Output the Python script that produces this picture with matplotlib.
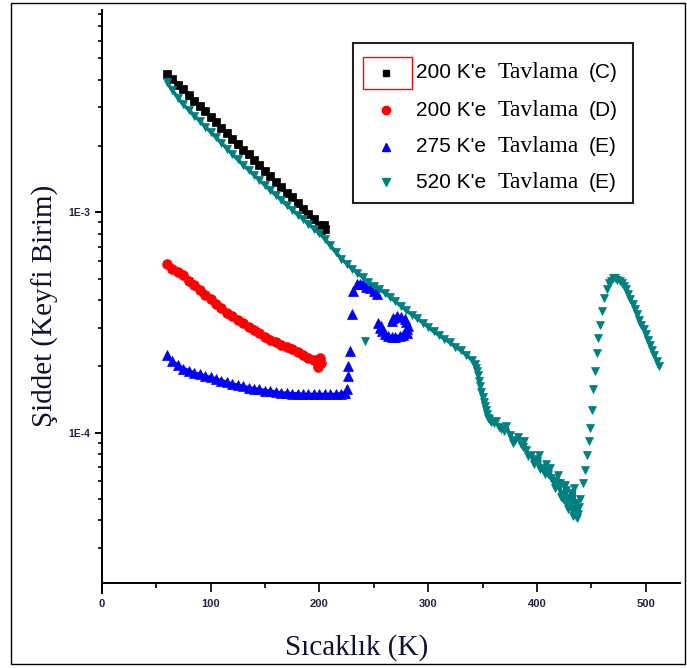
import matplotlib
matplotlib.use("Agg")
import matplotlib.pyplot as plt
from matplotlib.patches import Rectangle
from matplotlib.lines import Line2D
from matplotlib.font_manager import FontProperties
from matplotlib.ticker import FixedLocator, LogLocator, MultipleLocator, NullFormatter

# 200 K'e Tavlama (C) - siyah kareler
x_c = [60, 65, 70, 75, 80, 85, 90, 95, 100, 105, 110, 115, 120, 125, 130,
       135, 140, 145, 150, 155, 160, 165, 170, 175, 180, 185, 190, 195, 200,
       202, 203, 204, 205]
y_c = [4.26e-3, 4.05e-3, 3.80e-3, 3.62e-3, 3.40e-3, 3.22e-3, 3.03e-3, 2.88e-3,
       2.71e-3, 2.57e-3, 2.42e-3, 2.30e-3, 2.16e-3, 2.05e-3, 1.93e-3, 1.84e-3,
       1.73e-3, 1.64e-3, 1.54e-3, 1.46e-3, 1.38e-3, 1.30e-3, 1.23e-3, 1.17e-3,
       1.10e-3, 1.04e-3, 9.8e-4, 9.3e-4, 8.8e-4, 8.3e-4, 8.5e-4, 8.8e-4, 8.4e-4]

# 200 K'e Tavlama (D) - kirmizi daireler
x_d = [60, 65, 70, 75, 80, 85, 90, 95, 100, 105, 110, 115, 120, 125, 130,
       135, 140, 145, 150, 155, 160, 165, 170, 175, 180, 185, 190, 195,
       198, 199, 200, 201, 202]
y_d = [5.82e-4, 5.56e-4, 5.37e-4, 5.19e-4, 4.90e-4, 4.68e-4, 4.42e-4, 4.22e-4,
       4.03e-4, 3.85e-4, 3.67e-4, 3.51e-4, 3.39e-4, 3.24e-4, 3.13e-4, 3.02e-4,
       2.92e-4, 2.82e-4, 2.72e-4, 2.64e-4, 2.57e-4, 2.51e-4, 2.45e-4, 2.40e-4,
       2.32e-4, 2.26e-4, 2.19e-4, 2.14e-4, 2.10e-4, 1.99e-4, 2.05e-4, 2.18e-4, 2.08e-4]

# 275 K'e Tavlama (E) - mavi ucgenler
x_e1 = [60, 65, 70, 75, 80, 85, 90, 95, 100, 105, 110, 115, 120, 125, 130,
        135, 140, 145, 150, 155, 160, 165, 170, 175, 180, 185, 190, 195, 200,
        205, 210, 215, 220, 224,
        225.6, 226.4, 226.4, 228.2, 230, 230.9, 234.6, 237, 240, 243, 246.6, 250, 253,
        254, 255.8, 257, 258, 260.4, 263, 266.8, 270, 274.2, 277, 280.6, 281,
        281.5, 280, 278.8, 275, 271.4, 268, 266.8]
y_e1 = [2.24e-4, 2.11e-4, 2.02e-4, 1.95e-4, 1.91e-4, 1.86e-4, 1.84e-4, 1.80e-4,
        1.78e-4, 1.75e-4, 1.72e-4, 1.69e-4, 1.66e-4, 1.64e-4, 1.62e-4, 1.60e-4,
        1.58e-4, 1.57e-4, 1.55e-4, 1.54e-4, 1.53e-4, 1.51e-4, 1.51e-4, 1.50e-4,
        1.50e-4, 1.49e-4, 1.49e-4, 1.49e-4, 1.49e-4, 1.49e-4, 1.49e-4, 1.49e-4,
        1.50e-4, 1.51e-4,
        1.58e-4, 1.81e-4, 2.01e-4, 2.35e-4, 3.45e-4, 4.40e-4, 4.72e-4, 4.75e-4,
        4.72e-4, 4.60e-4, 4.53e-4, 4.40e-4, 4.26e-4,
        3.15e-4, 2.99e-4, 3.05e-4, 2.90e-4, 2.81e-4, 2.75e-4, 2.72e-4, 2.72e-4,
        2.75e-4, 2.78e-4, 2.83e-4, 2.95e-4, 3.05e-4, 3.18e-4, 3.28e-4, 3.35e-4,
        3.38e-4, 3.30e-4, 3.21e-4]

# 520 K'e Tavlama (E) - camgobegi ters ucgenler
x_e2 = [60, 65, 70, 75, 80, 85, 90, 95, 100, 105, 110, 115, 120, 125, 130,
        135, 140, 145, 150, 155, 160, 165, 170, 175, 180, 185, 190, 195, 200,
        205, 210, 215, 220, 225, 230, 235, 240, 245, 250, 255, 260, 265, 270,
        275, 280, 285, 290, 295, 300, 305, 310, 315, 320, 325, 330, 335, 340,
        343, 344, 345, 346, 347, 348, 349, 350, 351, 352, 353, 354, 355, 356,
        358, 361, 362, 365, 367, 370, 372, 375, 378, 380, 383,
        385, 387, 388, 390, 392, 395, 397, 398, 400, 402, 403, 405, 407, 408,
        410, 412, 413, 415, 417, 418, 419, 420, 421, 422, 424, 425, 426, 427,
        428, 429, 430, 431, 432, 433, 434, 435, 436, 436, 437, 438, 439,
        440, 442, 444, 446, 447.5, 449, 450.5, 452, 453.5, 455, 456.5, 458, 460,
        462, 464, 466, 468, 470, 472, 474, 476, 478, 480, 482, 484, 486, 488,
        490, 492, 494, 496, 498, 500, 502, 504, 506, 508, 510, 512, 242]
y_e2 = [3.89e-3, 3.59e-3, 3.31e-3, 3.09e-3, 2.92e-3, 2.75e-3, 2.60e-3, 2.45e-3,
        2.32e-3, 2.19e-3, 2.07e-3, 1.95e-3, 1.84e-3, 1.74e-3, 1.64e-3, 1.56e-3,
        1.48e-3, 1.40e-3, 1.33e-3, 1.26e-3, 1.20e-3, 1.14e-3, 1.08e-3, 1.03e-3,
        9.77e-4, 9.33e-4, 8.87e-4, 8.43e-4, 8.04e-4, 7.59e-4, 7.08e-4, 6.61e-4,
        6.17e-4, 5.86e-4, 5.56e-4, 5.31e-4, 5.07e-4, 4.84e-4, 4.62e-4, 4.47e-4,
        4.32e-4, 4.12e-4, 3.94e-4, 3.76e-4, 3.59e-4, 3.43e-4, 3.30e-4, 3.16e-4,
        3.02e-4, 2.88e-4, 2.77e-4, 2.66e-4, 2.57e-4, 2.45e-4, 2.36e-4, 2.26e-4,
        2.14e-4,
        2.04e-4, 1.97e-4, 1.90e-4, 1.82e-4, 1.72e-4, 1.62e-4, 1.53e-4, 1.45e-4,
        1.38e-4, 1.32e-4, 1.26e-4, 1.21e-4, 1.17e-4, 1.15e-4,
        1.12e-4, 1.10e-4, 1.13e-4, 1.06e-4, 1.04e-4, 1.02e-4, 1.07e-4, 9.77e-5,
        9.0e-5, 9.23e-5, 9.6e-5,
        8.91e-5, 8.6e-5, 9.2e-5, 8.32e-5, 7.8e-5, 7.94e-5, 7.2e-5, 7.6e-5,
        7.41e-5, 7.9e-5, 6.8e-5, 6.92e-5, 6.5e-5, 7.2e-5,
        6.46e-5, 6.9e-5, 6.2e-5, 6.03e-5, 5.6e-5, 5.9e-5, 6.4e-5, 5.62e-5,
        5.9e-5, 5.1e-5, 5.0e-5, 5.25e-5, 5.8e-5, 5.5e-5,
        4.7e-5, 4.5e-5, 4.90e-5, 5.3e-5, 4.6e-5, 4.2e-5, 5.6e-5, 4.47e-5,
        4.8e-5, 4.3e-5, 4.1e-5, 4.27e-5, 4.6e-5,
        5.01e-5, 5.89e-5, 6.76e-5, 7.94e-5, 9.12e-5, 1.05e-4, 1.26e-4, 1.58e-4,
        1.91e-4, 2.29e-4, 2.69e-4, 3.09e-4, 3.55e-4, 4.07e-4, 4.47e-4, 4.79e-4,
        4.90e-4, 5.01e-4, 5.01e-4, 4.95e-4, 4.90e-4, 4.79e-4, 4.62e-4, 4.47e-4,
        4.27e-4, 4.03e-4, 3.85e-4, 3.63e-4, 3.47e-4, 3.24e-4, 3.09e-4, 2.95e-4,
        2.79e-4, 2.63e-4, 2.51e-4, 2.37e-4, 2.24e-4, 2.11e-4, 2.00e-4, 2.61e-4]

labels_num = ["200 K'e", "200 K'e", "275 K'e", "520 K'e"]
labels_word = ["Tavlama", "Tavlama", "Tavlama", "Tavlama"]
labels_tag = ["(C)", "(D)", "(E)", "(E)"]

x_ticks = [0, 100, 200, 300, 400, 500]
y_ticks = [1e-4, 1e-3]
y_ticklabels = ["1E-4", "1E-3"]

W, H = 687, 668
fig = plt.figure(figsize=(W / 100, H / 100), dpi=100)

# cerceve (tum resim)
fig.patches.append(Rectangle((11 / W, 4 / H), 674 / W, 661 / H, transform=fig.transFigure,
                             fill=False, edgecolor="black", linewidth=1.0))

ax = fig.add_axes([101.7 / W, (H - 583) / H, (680 - 101.7) / W, (583 - 10) / H])

# marker, renk, grafik boyu, lejant boyu
styles = [("s", "black", 6.0, 4.5), ("o", "red", 7.0, 6.0),
          ("^", "blue", 6.8, 6.0), ("v", "#008080", 6.3, 6.0)]
series = [(x_c, y_c), (x_d, y_d), (x_e1, y_e1), (x_e2, y_e2)]

# Olcum noktalari cok sik oldugu icin yogun kisimlar kesintisiz bant gibi gorunuyor:
# bu kisimlarda noktalarin altina ayni renkte kalin bir cizgi konuyor.
n_e2 = len(x_e2) - 1  # son nokta (242 K) tek basina kalan nokta
dense = [
    [(0, len(x_c))],
    [(0, len(x_d))],
    [(0, 34), (40, 47), (47, len(x_e1))],
    [(0, x_e2.index(440)), (x_e2.index(466), n_e2)],
]
for (xs, ys), (m, c, s, _), segs in zip(series, styles, dense):
    for i0, i1 in segs:
        ax.plot(xs[i0:i1], ys[i0:i1], color=c, linewidth=2.6,
                solid_joinstyle="round", solid_capstyle="round")
    ax.plot(xs, ys, linestyle="none", marker=m, color=c, markersize=s,
            markeredgewidth=0.5)

ax.set_yscale("log")
ax.set_xlim(0, 531.5)
ax.set_ylim(2.075e-5, 8.3e-3)

ax.spines["top"].set_visible(False)
ax.spines["right"].set_visible(False)
ax.spines["left"].set_linewidth(1.4)
ax.spines["bottom"].set_linewidth(1.4)
# sol eksen x ekseninin biraz altina uzaniyor (Origin stili)
ax.plot([0, 0], [0, -10 / 573], transform=ax.transAxes, color="black",
        linewidth=1.4, clip_on=False)

ax.xaxis.set_major_locator(FixedLocator(x_ticks))
ax.xaxis.set_minor_locator(MultipleLocator(50))
ax.yaxis.set_major_locator(FixedLocator(y_ticks))
ax.set_yticklabels(y_ticklabels)
ax.yaxis.set_minor_locator(LogLocator(base=10, subs=[2, 3, 4, 5, 6, 7, 8, 9]))
ax.yaxis.set_minor_formatter(NullFormatter())

for lab in ax.get_xticklabels():
    lab.set_fontproperties(FontProperties(family="Liberation Sans", size=8, weight="bold"))
    lab.set_color("#222244")
for lab in ax.get_yticklabels():
    lab.set_fontproperties(FontProperties(family="Liberation Sans", size=7.5, weight="bold"))
    lab.set_color("#222244")
ax.tick_params(axis="x", which="major", direction="out", length=6.5, width=1.2, pad=5)
ax.tick_params(axis="x", which="minor", direction="out", length=3.5, width=1.2)
ax.tick_params(axis="y", which="major", direction="out", length=5, width=1.4, pad=3)
ax.tick_params(axis="y", which="minor", direction="out", length=3, width=1.2)

# eksen basliklari
fig.text(357 / W, 1 - 648 / H, "Sıcaklık (K)", family="Liberation Serif", size=21,
         color="#101030", ha="center", va="center")
fig.text(45 / W, 1 - 306 / H, "Şiddet (Keyfi Birim)", family="Liberation Serif", size=21,
         color="#101030", ha="center", va="center", rotation=90)


# lejant (elle cizildi: Origin'deki karisik yazi tipleri)
def px(xp, yp):
    return xp / W, 1 - yp / H


fig.patches.append(Rectangle(px(352.5, 203), (633 - 352.5) / W, (203 - 43) / H,
                             transform=fig.transFigure, fill=False,
                             edgecolor="#222222", linewidth=1.5))
fig.patches.append(Rectangle(px(363, 89), (411.5 - 363) / W, (89 - 57.5) / H,
                             transform=fig.transFigure, fill=False,
                             edgecolor="red", linewidth=1.0))
rows = [73, 110, 147, 182]
for i, yr in enumerate(rows):
    m, c, _, s = styles[i]
    fig.add_artist(Line2D([386 / W], [1 - yr / H], marker=m, color=c,
                          markersize=s, linestyle="none", transform=fig.transFigure))
    fig.text(416 / W, 1 - yr / H, labels_num[i], family="Liberation Sans", size=15,
             ha="left", va="center")
    fig.text(498 / W, 1 - yr / H, labels_word[i], family="Liberation Serif", size=17,
             ha="left", va="center")
    fig.text(589 / W, 1 - yr / H, labels_tag[i], family="Liberation Sans", size=15,
             ha="left", va="center")

fig.savefig("out.png", dpi=100)
